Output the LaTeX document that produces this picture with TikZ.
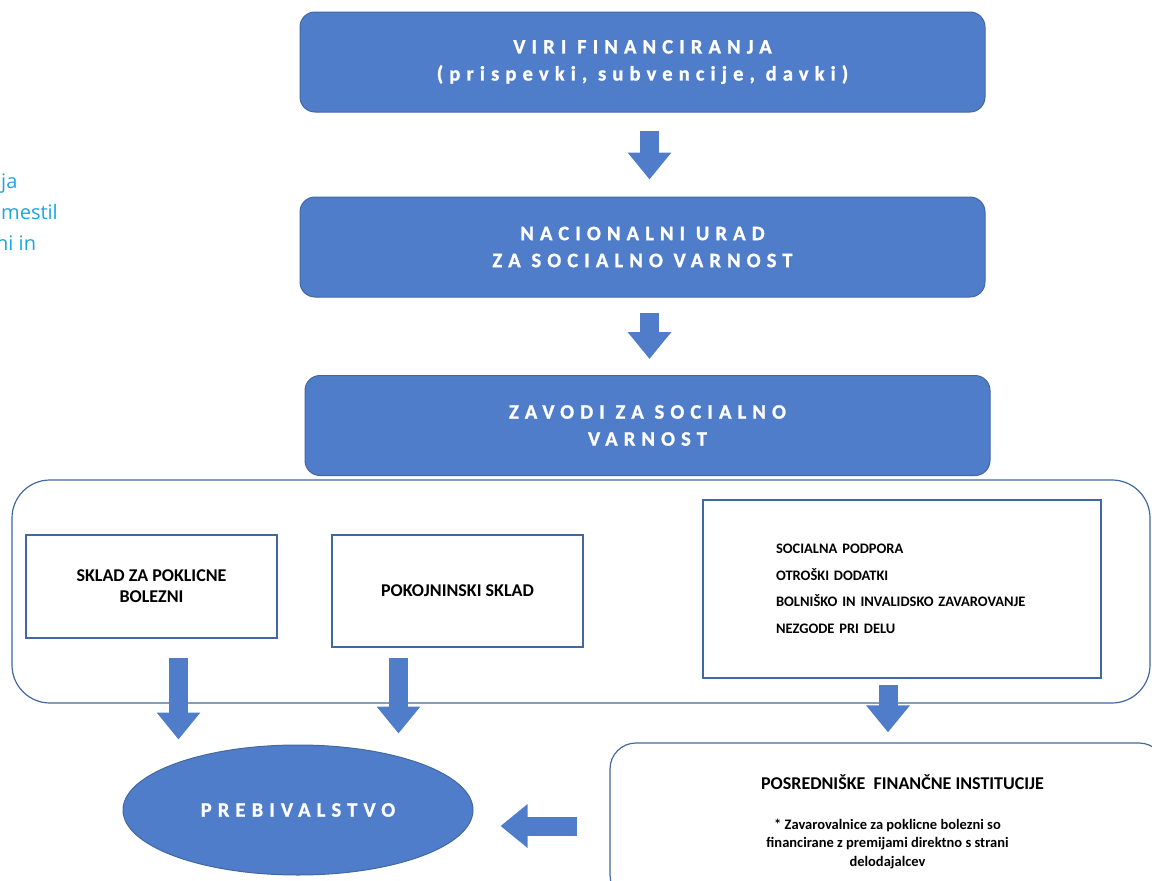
\documentclass[tikz,border=0pt]{standalone}
\usepackage{fontspec}
\setmainfont{Carlito}
\newfontfamily\spacedfont[LetterSpace=30, BoldFeatures={FakeBold=1.2}]{Carlito}
\newfontfamily\sidefont{Open Sans}
\usetikzlibrary{shapes.geometric,arrows.meta,positioning}
\definecolor{officeblue}{HTML}{4F7DC9}
\definecolor{blueedge}{HTML}{41689F}
\definecolor{sidecyan}{HTML}{1AA7E1}

\tikzset{
  bluebox/.style={draw=blueedge, fill=officeblue, rounded corners=15pt, line width=1pt,
    minimum width=685pt, minimum height=100pt, text=white, align=center,
    font=\spacedfont\bfseries\fontsize{20.5}{27}\selectfont},
  whitebox/.style={draw=blueedge, line width=1.2pt, align=center,
    font=\bfseries\fontsize{18}{21}\selectfont},
  bigarrow/.style={officeblue, line width=19pt, -{Triangle[width=42pt,length=27pt]}},
  sidetext/.style={anchor=base west, inner sep=0pt, text=sidecyan,
    font=\sidefont\fontsize{20}{24}\selectfont}
}

\begin{document}
\begin{tikzpicture}[x=1pt,y=-1pt]
\useasboundingbox (0,0) rectangle (1152,881);
\clip (0,0) rectangle (1152,881);

% cut-off text on the left
\node[sidetext] (side1) at (1,188) {ja};
\node[sidetext] (side2) at (1,219) {mestil};
\node[sidetext] (side3) at (-4,250) {ni in};

% top chain
\node[bluebox] (viri) at (642.5,62) {VIRI FINANCIRANJA\\(prispevki, subvencije, davki)};
\node[bluebox] (urad) at (642.5,247) {NACIONALNI URAD\\ZA SOCIALNO VARNOST};
\node[bluebox] (zavodi) at (647.5,425.5) {ZAVODI ZA SOCIALNO\\VARNOST};

\draw[bigarrow, shorten <=18pt, shorten >=17pt] ([xshift=7pt]viri.south) -- ([xshift=7pt]urad.north);
\draw[bigarrow, shorten <=15pt, shorten >=16pt] ([xshift=7pt]urad.south) -- ([xshift=7pt]urad.south |- zavodi.north);

% funds
\node[draw=blueedge, line width=1.2pt, rounded corners=38pt, minimum width=1138pt,
  minimum height=223pt] (skladi) at (581,591.5) {};
\node[whitebox, minimum width=251pt, minimum height=103pt] (poklicne) at (151.5,586.5)
  {SKLAD ZA POKLICNE\\BOLEZNI};
\node[whitebox, minimum width=251pt, minimum height=112pt] (pokojnine) at (457.5,591)
  {POKOJNINSKI SKLAD};
\node[whitebox, minimum width=398pt, minimum height=178pt, align=left, text width=252pt,
  font=\bfseries\fontsize{14.5}{26.5}\selectfont] (podpora) at (902,589)
  {SOCIALNA PODPORA\\OTROŠKI DODATKI\\BOLNIŠKO IN INVALIDSKO ZAVAROVANJE\\NEZGODE PRI DELU};

% bottom
\node[ellipse, draw=blueedge, fill=officeblue, line width=1pt, minimum width=350pt,
  minimum height=130pt, text=white, font=\spacedfont\bfseries\fontsize{20.5}{26}\selectfont]
  (prebival) at (298,810) {PREBIVALSTVO};
\node[draw=blueedge, line width=1.2pt, rounded corners=26pt, minimum width=555pt,
  minimum height=158pt, align=center, font=\bfseries\fontsize{14.5}{18.5}\selectfont]
  (posred) at (887.5,822)
  {\hspace*{30pt}{\fontsize{18}{21}\selectfont POSREDNIŠKE\ \ FINANČNE INSTITUCIJE}\\[21pt]
   * Zavarovalnice za poklicne bolezni so\\
   financirane z premijami direktno s strani\\delodajalcev};

\draw[bigarrow, shorten <=19pt, shorten >=5pt] ([xshift=27pt]poklicne.south) -- ([xshift=27pt]poklicne.south |- prebival.north);
\draw[bigarrow, shorten <=10pt, shorten >=11pt] ([xshift=-59pt]pokojnine.south) -- ([xshift=-59pt]pokojnine.south |- prebival.north);
\draw[bigarrow, shorten <=6pt, shorten >=10pt] ([xshift=-14pt]podpora.south) -- ([xshift=-14pt]podpora.south |- posred.north);
\draw[bigarrow, shorten <=32pt, shorten >=27pt] ([yshift=-4pt]posred.west) -- ([yshift=-4pt]posred.west -| prebival.east);
\end{tikzpicture}
\end{document}
